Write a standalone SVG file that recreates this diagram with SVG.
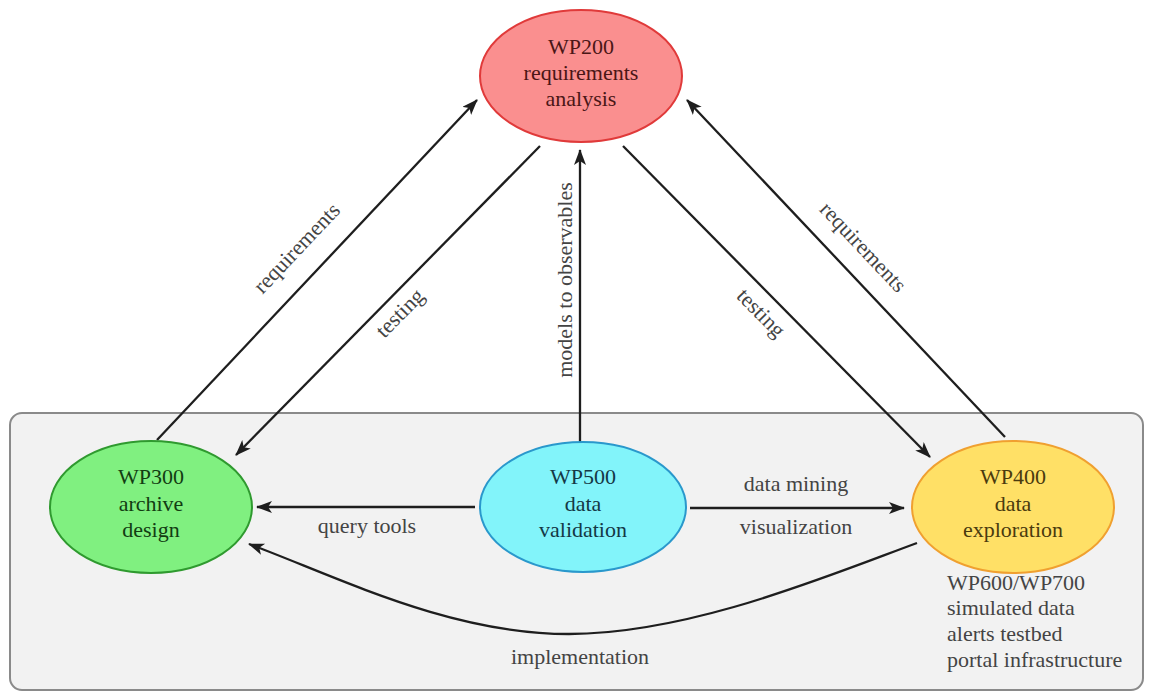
<svg xmlns="http://www.w3.org/2000/svg" width="1150" height="693" viewBox="0 0 1150 693">
  <style>
    text { font-family: "Liberation Serif", "Times New Roman", serif; font-size: 22px; }
    .lbl { fill: #444; }
    .ntx { text-anchor: middle; }
    .edge { fill: none; stroke: #1e1e1e; stroke-width: 2.3; marker-end: url(#arrow); }
  </style>
  <defs>
    <marker id="arrow" markerUnits="userSpaceOnUse" markerWidth="18" markerHeight="14" refX="15" refY="6" orient="auto">
      <path d="M0,0 L16,6 L0,12 L4,6 Z" fill="#1e1e1e"/>
    </marker>
  </defs>

  <rect width="1150" height="693" fill="#ffffff"/>

  <!-- grey panel holding the work packages -->
  <rect id="panel" x="10" y="413" width="1133" height="277" rx="12" ry="12" fill="#f2f2f2" stroke="#8a8a8a" stroke-width="2"/>

  <g id="connectors" font-family="Liberation Serif, serif">
    <line class="edge" x1="157" y1="440" x2="477" y2="100"/>
    <line class="edge" x1="540" y1="146" x2="236" y2="455"/>
    <line class="edge" x1="580" y1="442" x2="580" y2="150"/>
    <line class="edge" x1="623" y1="146" x2="930" y2="457"/>
    <line class="edge" x1="1005" y1="437" x2="687" y2="100"/>
    <line class="edge" x1="475" y1="507" x2="257" y2="507"/>
    <line class="edge" x1="690" y1="508" x2="904" y2="508"/>
    <path class="edge" d="M917,543 C830,575 690,634 569,634 C450,634 340,578 249,544"/>

    <text class="lbl" text-anchor="middle" transform="translate(302,253) rotate(-46.7)">requirements</text>
    <text class="lbl" text-anchor="middle" transform="translate(405,318) rotate(-45.5)">testing</text>
    <text class="lbl" text-anchor="middle" transform="translate(572,280) rotate(-90)">models to observables</text>
    <text class="lbl" text-anchor="middle" transform="translate(756,318) rotate(45.5)">testing</text>
    <text class="lbl" text-anchor="middle" transform="translate(858,252) rotate(46.7)">requirements</text>
    <text class="lbl" text-anchor="middle" x="367" y="533">query tools</text>
    <text class="lbl" text-anchor="middle" x="796" y="491">data mining</text>
    <text class="lbl" text-anchor="middle" x="796" y="534">visualization</text>
    <text class="lbl" text-anchor="middle" x="580" y="664">implementation</text>
  </g>

  <g id="wp200" font-family="Liberation Serif, serif">
    <ellipse cx="581" cy="76" rx="101" ry="66" fill="#fa8f8f" stroke="#e03a3a" stroke-width="2"/>
    <text class="ntx" fill="#4a1616" x="581" y="54">WP200</text>
    <text class="ntx" fill="#4a1616" x="581" y="80">requirements</text>
    <text class="ntx" fill="#4a1616" x="581" y="106">analysis</text>
  </g>

  <g id="wp300" font-family="Liberation Serif, serif">
    <ellipse cx="151" cy="507" rx="101" ry="66" fill="#80f080" stroke="#2f9a2f" stroke-width="2"/>
    <text class="ntx" fill="#123d12" x="151" y="484">WP300</text>
    <text class="ntx" fill="#123d12" x="151" y="511">archive</text>
    <text class="ntx" fill="#123d12" x="151" y="537">design</text>
  </g>

  <g id="wp500" font-family="Liberation Serif, serif">
    <ellipse cx="583" cy="507" rx="103" ry="65" fill="#82f4fa" stroke="#2a98cc" stroke-width="2"/>
    <text class="ntx" fill="#143846" x="583" y="484">WP500</text>
    <text class="ntx" fill="#143846" x="583" y="511">data</text>
    <text class="ntx" fill="#143846" x="583" y="537">validation</text>
  </g>

  <g id="wp400" font-family="Liberation Serif, serif">
    <ellipse cx="1013" cy="507" rx="101" ry="66" fill="#ffe066" stroke="#f0a030" stroke-width="2"/>
    <text class="ntx" fill="#4a3a0e" x="1013" y="484">WP400</text>
    <text class="ntx" fill="#4a3a0e" x="1013" y="511">data</text>
    <text class="ntx" fill="#4a3a0e" x="1013" y="537">exploration</text>
  </g>

  <g id="wp600-wp700" font-family="Liberation Serif, serif">
    <text class="lbl" fill="#333" x="947" y="590">WP600/WP700</text>
    <text class="lbl" fill="#333" x="947" y="615">simulated data</text>
    <text class="lbl" fill="#333" x="947" y="641">alerts testbed</text>
    <text class="lbl" fill="#333" x="947" y="667">portal infrastructure</text>
  </g>
</svg>
